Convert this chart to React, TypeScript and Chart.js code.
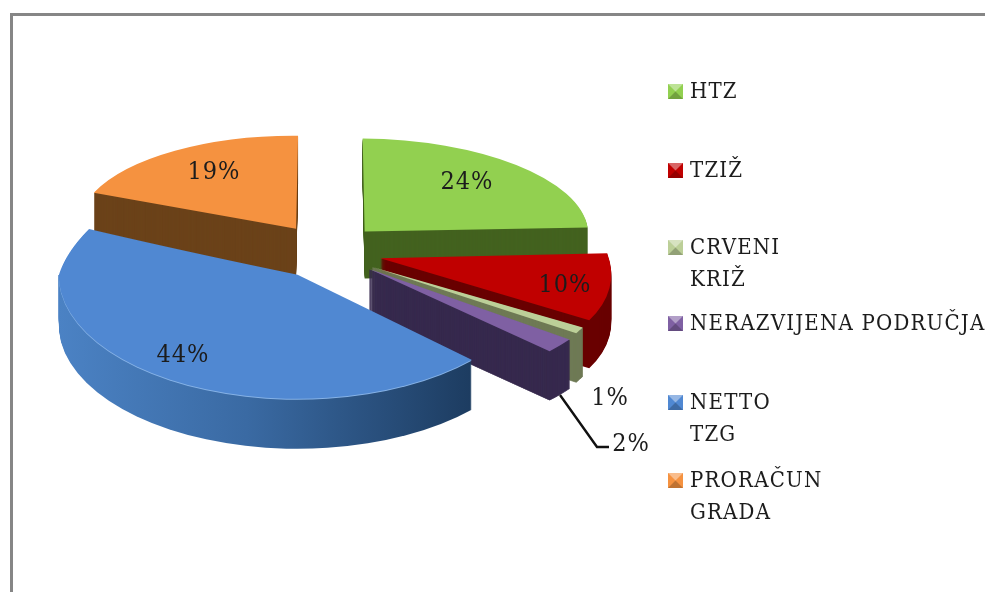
import React, { useEffect, useRef } from "react";
import { Chart, registerables } from "chart.js";

Chart.register(...registerables);

// ---- data ----
const CATEGORIES = [["HTZ"], ["TZIŽ"], ["CRVENI", "KRIŽ"], ["NERAZVIJENA PODRUČJA"], ["NETTO", "TZG"], ["PRORAČUN", "GRADA"]];
const VALUES = [24, 10, 1, 2, 44, 19];
const TOP_COLORS = ["#92d050", "#c00000", "#bccf98", "#7f60a3", "#5088d2", "#f59240"];
const SIDE_COLORS = ["#43621f", "#690000", "#6f7a55", "#372a4e", "#2f5a90", "#6b4219"];

// ---- layout ----
const SERIF = '"DejaVu Serif Condensed", "DejaVu Serif", serif';
const DRAW_ORDER = [5, 0, 1, 2, 3, 4];
const EXPLODE = 55;
const TILT = 0.5;
// per-slice projection of the flat pie (a, b, c, d of the canvas transform) and its extrusion depth
const SLICE_FRAMES = [
  { m: [0.9316, 0.0075, 0.0083, 0.3875], depth: 47, edge: 0 },
  { m: [0.955, 0.0085, 0.12, 0.469], depth: 48, edge: 0 },
  { m: [0.955, 0, 0.13, 0.47], depth: 49, edge: 1 },
  { m: [1.03, 0, 0, 0.5], depth: 49, edge: 1 },
  { m: [0.995, 0, 0, 0.517], depth: 50, edge: 0 },
  { m: [0.91, 0.008, -0.0083, 0.3875], depth: 47, edge: 0 },
];
const PERSPECTIVE_SLICE = 4; // the big front slice narrows toward the back
const LABEL_POS = [[467, 182], [565, 285], [610, 398], [631, 444], [183, 355], [214, 172]];
const LEGEND_Y = [92, 171, 248, 324, 403, 481];
const LEGEND_LINE_GAP = 32;

const pie3d = {
  id: "pie3d",
  beforeDraw(chart: any) {
    const ctx = chart.ctx;
    ctx.save();
    ctx.fillStyle = "#ffffff";
    ctx.fillRect(0, 0, chart.width, chart.height);
    ctx.fillStyle = "#868686";
    ctx.fillRect(10, 13, chart.width - 10, 3);
    ctx.fillRect(10, 13, 3, chart.height - 13);
    ctx.restore();
  },
  beforeDatasetsDraw(chart: any) {
    const ctx = chart.ctx;
    const arcs = chart.getDatasetMeta(0).data;
    for (const i of DRAW_ORDER) {
      const arc = arcs[i];
      const { startAngle, endAngle, x, y, outerRadius } = arc;
      const mid = (startAngle + endAngle) / 2;
      const frame = SLICE_FRAMES[i];
      const ox = x + Math.cos(mid) * EXPLODE;
      const oy = y + Math.sin(mid) * EXPLODE * TILT;
      const paint = (dy: number, fill: any, edge: number, xScale?: number) => {
        ctx.save();
        ctx.translate(ox, oy + dy);
        const [a, b, c, d] = frame.m;
        ctx.transform(xScale ?? a, b, c, d, 0, 0);
        ctx.translate(-x, -y);
        const view = Object.create(arc);
        view.options = { ...arc.options, backgroundColor: fill, borderColor: fill, borderWidth: edge };
        view.draw(ctx);
        ctx.restore();
      };
      const inRows = (top: number, bottom: number, fn: () => void) => {
        ctx.save();
        ctx.beginPath();
        ctx.rect(0, top, chart.width, bottom - top);
        ctx.clip();
        fn();
        ctx.restore();
      };
      let side: any = SIDE_COLORS[i];
      if (i === PERSPECTIVE_SLICE) {
        side = ctx.createLinearGradient(x - outerRadius, 0, x + outerRadius * 0.75, 0);
        side.addColorStop(0, "#4b82c4");
        side.addColorStop(0.45, "#3a6aa3");
        side.addColorStop(1, "#1c3b5f");
        const rowY = Math.round(oy);
        inRows(rowY, chart.height, () => {
          for (let dy = frame.depth; dy >= 1; dy--) paint(dy, side, 0);
          paint(1, "#86b2e6", 0);
          paint(0, TOP_COLORS[i], 0);
        });
        for (let row = rowY - 60; row < rowY; row++) {
          const xScale = frame.m[0] - (0.055 * (rowY - row)) / 42;
          inRows(row, row + 1, () => paint(0, TOP_COLORS[i], 0, xScale));
        }
      } else {
        for (let dy = frame.depth; dy >= 1; dy--) paint(dy, side, frame.edge);
        paint(0, TOP_COLORS[i], 0);
      }
    }
    return false;
  },
  afterDraw(chart: any) {
    const ctx = chart.ctx;
    ctx.save();
    // leader line for the 2% label
    ctx.strokeStyle = "#111111";
    ctx.lineWidth = 2.4;
    ctx.beginPath();
    ctx.moveTo(560, 395);
    ctx.lineTo(597, 447);
    ctx.lineTo(609, 447);
    ctx.stroke();

    ctx.textBaseline = "middle";
    ctx.textAlign = "center";
    ctx.fillStyle = "#1c1c1c";
    ctx.font = `25px ${SERIF}`;
    ctx.letterSpacing = "1px";
    VALUES.forEach((v, i) => {
      ctx.fillText(`${v}%`, LABEL_POS[i][0], LABEL_POS[i][1]);
    });

    // legend
    ctx.textAlign = "left";
    ctx.font = `22px ${SERIF}`;
    ctx.letterSpacing = "1.2px";
    CATEGORIES.forEach((lines, i) => {
      const cy = LEGEND_Y[i];
      const bx = 668, by = cy - 8, s = 15;
      ctx.fillStyle = TOP_COLORS[i];
      ctx.fillRect(bx, by, s, s);
      ctx.fillStyle = "rgba(255,255,255,0.4)";
      ctx.beginPath();
      ctx.moveTo(bx, by);
      ctx.lineTo(bx + s, by);
      ctx.lineTo(bx + s / 2, by + s / 2);
      ctx.closePath();
      ctx.fill();
      ctx.fillStyle = "rgba(0,0,0,0.22)";
      ctx.beginPath();
      ctx.moveTo(bx, by + s);
      ctx.lineTo(bx + s, by + s);
      ctx.lineTo(bx + s / 2, by + s / 2);
      ctx.closePath();
      ctx.fill();
      ctx.fillStyle = "#1c1c1c";
      lines.forEach((t, k) => ctx.fillText(t, 690, cy + k * LEGEND_LINE_GAP));
    });
    ctx.restore();
  },
};

export default function App() {
  const ref = useRef<HTMLCanvasElement | null>(null);
  useEffect(() => {
    const chart = new Chart(ref.current as HTMLCanvasElement, {
      type: "pie",
      data: {
        labels: CATEGORIES.map((l) => l.join(" ")),
        datasets: [{ data: VALUES, backgroundColor: TOP_COLORS, borderWidth: 0 }],
      },
      options: {
        responsive: false,
        animation: false,
        radius: 240,
        layout: { padding: { right: 331, bottom: 89 } },
        plugins: { legend: { display: false }, tooltip: { enabled: false } },
      } as any,
      plugins: [pie3d as any],
    });
    return () => chart.destroy();
  }, []);
  return (
    <div style={{ position: "fixed", left: 0, top: 0, width: 985, height: 592, overflow: "hidden", background: "#fff" }}>
      <canvas ref={ref} width={985} height={592} style={{ display: "block", filter: "blur(0.4px)" }} />
    </div>
  );
}
